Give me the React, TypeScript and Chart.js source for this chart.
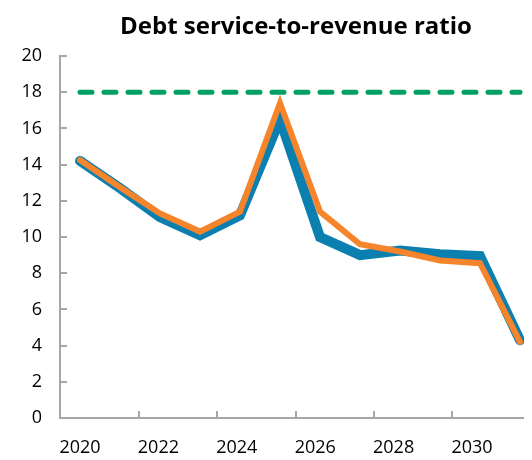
import { useEffect, useRef } from "react";
import { Chart, registerables } from "chart.js";

Chart.register(...registerables);

const years = [2020, 2021, 2022, 2023, 2024, 2025, 2026, 2027, 2028, 2029, 2030, 2031];
const xTickLabels = [2020, 2022, 2024, 2026, 2028, 2030];
const xTickMarks = [2021.5, 2023.5, 2025.5, 2027.5, 2029.5];
const yTicks = [0, 2, 4, 6, 8, 10, 12, 14, 16, 18, 20];
const seriesBlue = [14.2, 12.7, 11.1, 10.1, 11.2, 16.5, 10.0, 9.0, 9.25, 9.05, 8.95, 4.3];
const seriesOrange = [14.25, 12.75, 11.3, 10.3, 11.4, 17.4, 11.4, 9.6, 9.2, 8.7, 8.55, 4.2];
const threshold = [18, 18, 18, 18, 18, 18, 18, 18, 18, 18, 18, 18];

const AXIS_GRAY = "#a6a6a6";
const FONT = "'Open Sans', 'Noto Sans', sans-serif";

const innerTicks = {
  id: "innerTicks",
  beforeDatasetsDraw(chart: any) {
    const { ctx, chartArea, scales } = chart;
    ctx.save();
    ctx.strokeStyle = AXIS_GRAY;
    ctx.lineWidth = 2;
    for (const v of xTickMarks) {
      const px = Math.round(scales.x.getPixelForValue(v));
      ctx.beginPath();
      ctx.moveTo(px, chartArea.bottom);
      ctx.lineTo(px, chartArea.bottom - 7);
      ctx.stroke();
    }
    for (const v of yTicks) {
      if (v === 0) continue;
      const py = Math.round(scales.y.getPixelForValue(v));
      ctx.beginPath();
      ctx.moveTo(chartArea.left, py);
      ctx.lineTo(chartArea.left + 7, py);
      ctx.stroke();
    }
    ctx.restore();
  },
};

export default function App() {
  const ref = useRef<HTMLCanvasElement | null>(null);
  useEffect(() => {
    if (!ref.current) return;
    const toPts = (arr: number[]) => years.map((yr, i) => ({ x: yr, y: arr[i] }));
    const chart = new Chart(ref.current, {
      type: "line",
      data: {
        datasets: [
          {
            label: "Threshold",
            data: toPts(threshold),
            borderColor: "#00a065",
            borderWidth: 5,
            borderDash: [12, 12],
            borderCapStyle: "round",
            pointRadius: 0,
            fill: false,
            xAxisID: "xd",
            yAxisID: "y",
            order: 3,
          },
          {
            label: "Series A",
            data: toPts(seriesBlue),
            borderColor: "#0b7fb0",
            borderWidth: 10,
            borderCapStyle: "round",
            pointRadius: 0,
            fill: false,
            xAxisID: "xd",
            yAxisID: "y",
            order: 2,
          },
          {
            label: "Series B",
            data: toPts(seriesOrange),
            borderColor: "#f5842b",
            borderWidth: 6,
            borderCapStyle: "round",
            pointRadius: 0,
            fill: false,
            xAxisID: "xd",
            yAxisID: "y",
            order: 1,
          },
        ],
      },
      options: {
        responsive: false,
        animation: false,
        layout: { padding: 0 },
        plugins: {
          legend: { display: false },
          tooltip: { enabled: false },
          title: {
            display: true,
            text: "Debt service-to-revenue ratio",
            fullSize: false,
            color: "#000",
            font: { family: FONT, size: 24, weight: "bold" },
            padding: { top: 5, bottom: 14.2 },
          },
        },
        scales: {
          xd: { type: "linear", display: false, min: 2019.5, max: 2031.3 },
          x: {
            type: "linear",
            position: "bottom",
            min: 2019.49,
            max: 2031.53,
            afterBuildTicks: (s: any) => {
              s.ticks = xTickLabels.map((v) => ({ value: v }));
            },
            afterFit: (s: any) => {
              s.height = 42;
            },
            grid: { display: false, drawTicks: false },
            border: { display: true, color: AXIS_GRAY, width: 2 },
            ticks: {
              autoSkip: false,
              maxRotation: 0,
              padding: 19,
              color: "#000",
              font: { family: FONT, size: 18 },
              callback: (v: any) => String(v),
            },
          },
          y: {
            type: "linear",
            min: 0,
            max: 20,
            afterBuildTicks: (s: any) => {
              s.ticks = yTicks.map((v) => ({ value: v }));
            },
            afterFit: (s: any) => {
              s.width = 52;
            },
            grid: { display: false, drawTicks: false },
            border: { display: true, color: AXIS_GRAY, width: 2 },
            ticks: {
              padding: 18,
              color: "#000",
              font: { family: FONT, size: 18 },
              callback: (v: any) => String(v),
            },
          },
        },
      },
      plugins: [innerTicks],
    } as any);
    return () => chart.destroy();
  }, []);
  return (
    <div style={{ width: 524, height: 452, overflow: "hidden" }}>
      <canvas ref={ref} width={524} height={452} style={{ display: "block" }} />
    </div>
  );
}
